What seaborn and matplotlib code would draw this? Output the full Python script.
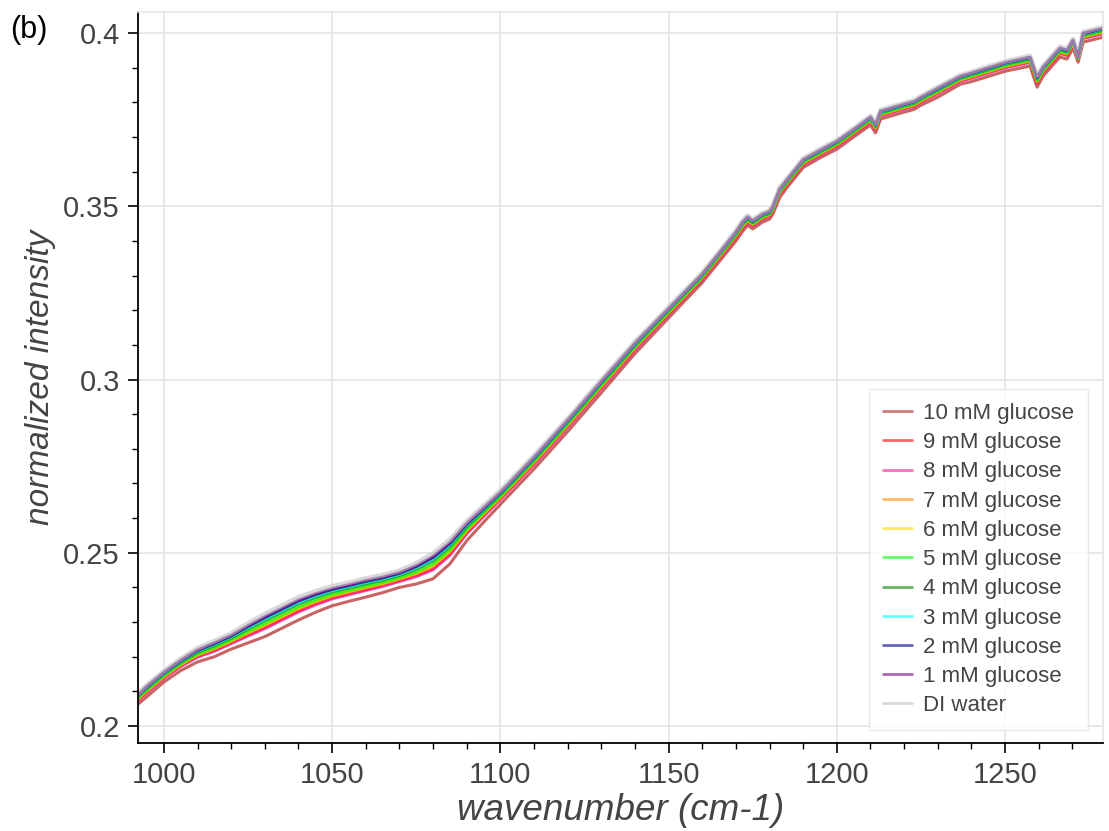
import numpy as np
import pandas as pd
import matplotlib
matplotlib.use("Agg")
import matplotlib.pyplot as plt
import seaborn as sns
from matplotlib.ticker import MultipleLocator, FuncFormatter
from matplotlib.lines import Line2D

# ---- data ----
wavenumber = [992.3, 995, 1000, 1005, 1010, 1015, 1020, 1025, 1030, 1035, 1040, 1045,
              1050, 1055, 1060, 1065, 1070, 1075, 1080, 1085, 1090, 1095, 1100, 1110,
              1120, 1130, 1140, 1150, 1160, 1165, 1170, 1172, 1173.5, 1175, 1178, 1180,
              1181, 1183, 1185, 1190, 1195, 1200, 1205, 1210, 1211.5, 1213, 1220, 1223,
              1225, 1230, 1236.6, 1240, 1250, 1257.4, 1259.5, 1261.3, 1266.3, 1268.4,
              1270.2, 1271.7, 1273.2, 1279.1]

# upper edge of the band (1 mM glucose)
upper = [0.2090, 0.2115, 0.2155, 0.2190, 0.2220, 0.2240, 0.2262, 0.2290, 0.2316, 0.2340,
         0.2364, 0.2382, 0.2397, 0.2408, 0.2420, 0.2430, 0.2443, 0.2463, 0.2490, 0.2530,
         0.2585, 0.2630, 0.2675, 0.2776, 0.2883, 0.2995, 0.3105, 0.3205, 0.3305, 0.3365,
         0.3426, 0.3455, 0.3470, 0.3458, 0.3478, 0.3485, 0.3500, 0.3550, 0.3575, 0.3635,
         0.3662, 0.3688, 0.3722, 0.3758, 0.3736, 0.3775, 0.3795, 0.3803, 0.3815, 0.3841,
         0.3875, 0.3885, 0.3915, 0.3931, 0.3873, 0.3902, 0.3957, 0.3951, 0.3980, 0.3931,
         0.4000, 0.4014]

# lower edge of the band (10 mM glucose)
lower = [0.2063, 0.2085, 0.2127, 0.2160, 0.2185, 0.2200, 0.2222, 0.2240, 0.2258, 0.2282,
         0.2306, 0.2328, 0.2347, 0.2360, 0.2372, 0.2385, 0.2400, 0.2410, 0.2425, 0.2468,
         0.2535, 0.2588, 0.2640, 0.2742, 0.2850, 0.2962, 0.3075, 0.3178, 0.3280, 0.3340,
         0.3400, 0.3428, 0.3445, 0.3435, 0.3455, 0.3463, 0.3478, 0.3525, 0.3552, 0.3612,
         0.3640, 0.3665, 0.3700, 0.3735, 0.3712, 0.3752, 0.3772, 0.3780, 0.3792, 0.3815,
         0.3852, 0.3860, 0.3890, 0.3905, 0.3844, 0.3876, 0.3931, 0.3925, 0.3957, 0.3916,
         0.3974, 0.3988]

labels = ["10 mM glucose", "9 mM glucose", "8 mM glucose", "7 mM glucose", "6 mM glucose",
          "5 mM glucose", "4 mM glucose", "3 mM glucose", "2 mM glucose", "1 mM glucose",
          "DI water"]
# relative position of each series inside the band (0 = upper edge, 1 = lower edge)
band_position = [1.0, 0.55, 0.6, 0.45, 0.4, 0.35, 0.2, 0.12, 0.05, 0.0, -0.12]
colors = ["firebrick", "red", "deeppink", "darkorange", "gold", "lime", "green",
          "cyan", "darkblue", "purple", "silver"]

x_ticks = [1000, 1050, 1100, 1150, 1200, 1250]
y_ticks = [0.2, 0.25, 0.3, 0.35, 0.4]

# ---- build long-form table ----
up = np.array(upper)
lo = np.array(lower)
rows = []
for lab, pos in zip(labels, band_position):
    vals = up + pos * (lo - up)
    for w, v in zip(wavenumber, vals):
        rows.append({"wavenumber": w, "intensity": v, "series": lab})
df = pd.DataFrame(rows)

sns.set_theme(style="white")
plt.rcParams["font.family"] = ["Liberation Sans", "DejaVu Sans"]

fig = plt.figure(figsize=(11.09, 8.31), dpi=100)
ax = fig.add_axes([0.1244, 0.1059, 0.8702, 0.8797])

palette = dict(zip(labels, colors))
sns.lineplot(data=df, x="wavenumber", y="intensity", hue="series", hue_order=labels,
             palette=palette, ax=ax, linewidth=2.2, alpha=0.7, legend=False,
             estimator=None, sort=False)
for ln in ax.get_lines():
    if matplotlib.colors.to_hex(ln.get_color()) == "#c0c0c0":
        ln.set_linewidth(3.5)
        ln.set_alpha(0.6)

ax.set_xlim(992.3, 1279.1)
ax.set_ylim(0.1951, 0.4061)
ax.set_xticks(x_ticks)
ax.set_yticks(y_ticks)
ax.xaxis.set_minor_locator(MultipleLocator(10))
ax.yaxis.set_minor_locator(MultipleLocator(0.01))
ax.yaxis.set_major_formatter(FuncFormatter(lambda v, p: ("%g" % round(v, 3))))
ax.grid(True, which="major", color="#e5e5e5", linewidth=1.2)
ax.set_axisbelow(True)

for side in ["left", "bottom"]:
    ax.spines[side].set_color("black")
    ax.spines[side].set_linewidth(1.3)
for side in ["top", "right"]:
    ax.spines[side].set_color("#e5e5e5")
    ax.spines[side].set_linewidth(1.2)

ax.tick_params(which="major", direction="out", length=7, width=1.2, color="black",
               labelsize=21, labelcolor="#444444", left=True, bottom=True, pad=6)
ax.tick_params(which="minor", direction="out", length=4.5, width=1.0, color="black",
               left=True, bottom=True)

ax.set_xlabel("wavenumber (cm-1)", fontsize=26.5, style="italic", color="#444444", labelpad=3)
ax.set_ylabel("normalized intensity", fontsize=24, style="italic", color="#444444", labelpad=5)

# legend
handles = [Line2D([0], [0], color=c, lw=2, alpha=0.6) for c in colors]
leg = ax.legend(handles, labels, loc="lower right", bbox_to_anchor=(0.9845, 0.0178),
                fontsize=16, frameon=True, fancybox=False, handlelength=1.3,
                handletextpad=0.5, labelspacing=0.37, borderpad=0.62,
                borderaxespad=0.0)
leg.get_frame().set_edgecolor("#e5e5e5")
leg.get_frame().set_linewidth(1.0)
for t in leg.get_texts():
    t.set_color("#444444")

fig.text(0.009, 0.964, "(b)", fontsize=22, color="black", ha="left", va="center")

fig.savefig("out.png", dpi=100)
